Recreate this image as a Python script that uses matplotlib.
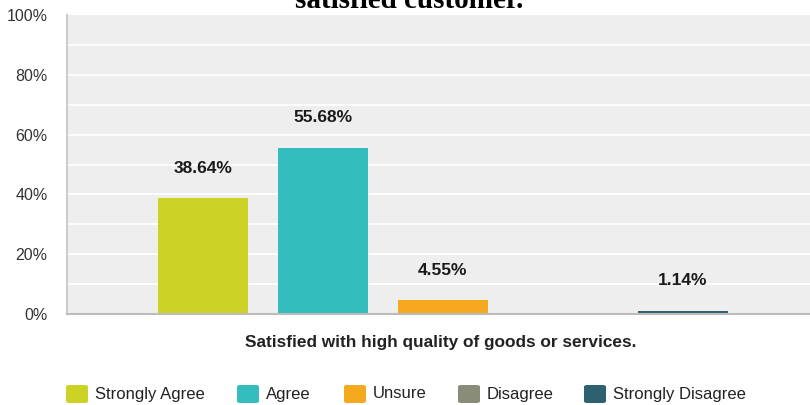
import matplotlib.pyplot as plt
from matplotlib.patches import FancyBboxPatch

categories = ["Strongly Agree", "Agree", "Unsure", "Disagree", "Strongly Disagree"]
values = [38.64, 55.68, 4.55, 0.0, 1.14]
value_labels = ["38.64%", "55.68%", "4.55%", None, "1.14%"]
colors = ["#CDD325", "#33BDBF", "#F5A91E", "#8A8C7A", "#2E6170"]
yticks = [0, 20, 40, 60, 80, 100]

plt.rcParams["font.family"] = ["Liberation Sans", "DejaVu Sans"]

fig = plt.figure(figsize=(8.1, 4.05), dpi=100)
ax = fig.add_axes([67 / 810, 91 / 405, 1 - 67 / 810, 299 / 405])
ax.set_facecolor("#EEEEEE")

x = list(range(len(categories)))
ax.set_xlim(-1.13, 5.06)
ax.set_ylim(0, 100)
for g in range(10, 100, 10):
    ax.axhline(g, color="white", lw=1.2, zorder=1)

bars = ax.bar(x, values, width=0.75, color=colors, zorder=2)
for xi, v, lab in zip(x, values, value_labels):
    if lab:
        ax.text(xi, v + 10, lab, ha="center", va="center", fontsize=12.5,
                weight="bold", color="#1A1A1A", zorder=3)

ax.set_yticks(yticks)
ax.set_yticklabels([f"{t}%" for t in yticks], fontsize=11.5, color="#333333")
ax.tick_params(axis="y", length=0, pad=14)
ax.set_xticks([])
for s in ["top", "right"]:
    ax.spines[s].set_visible(False)
ax.spines["left"].set_color("#CCCCCC")
ax.spines["left"].set_linewidth(1.5)
ax.spines["bottom"].set_color("#BBBBBB")
ax.spines["bottom"].set_linewidth(1.5)

fig.text(441 / 810, 1 - 342 / 405, "Satisfied with high quality of goods or services.",
         ha="center", va="center", fontsize=12.4, weight="bold", color="#222222")

# title (clipped at the top in the reference)
fig.text(409 / 810, 1 - 8 / 405, "satisfied customer.", ha="center", va="baseline",
         fontsize=21, weight="bold", family="Liberation Serif", color="black")

# legend
leg_x = [65, 236, 343, 457, 583]
for lx, name, c in zip(leg_x, categories, colors):
    fig.patches.append(FancyBboxPatch(((lx + 1) / 810, 1 - 403 / 405), 22 / 810, 18 / 405,
                                      boxstyle="round,pad=0,rounding_size=0.004",
                                      transform=fig.transFigure, facecolor=c, edgecolor="none"))
    fig.text((lx + 30) / 810, 1 - 394 / 405, name, ha="left", va="center",
             fontsize=12, color="#222222")

fig.savefig("out.png", dpi=100)
